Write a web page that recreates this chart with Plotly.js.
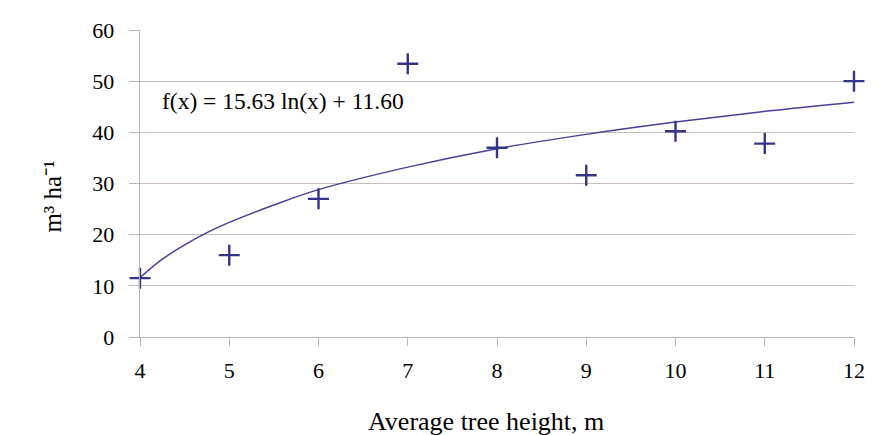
<!DOCTYPE html>
<html>
<head>
<meta charset="utf-8">
<script src="https://cdn.plot.ly/plotly-3.0.1.min.js"></script>
<style>html,body{margin:0;padding:0;background:#fff;}#chart{width:887px;height:435px;}</style>
</head>
<body>
<div id="chart"></div>
<script>
const heights = [4, 5, 6, 7, 8, 9, 10, 11, 12];
const volumes = [11.5, 16.0, 27.0, 53.4, 37.0, 31.6, 40.2, 37.8, 50.0];

// Trend line points
const trendX = [4, 4.25, 4.5, 4.75, 5, 5.5, 6, 7, 8, 9, 10, 11, 12];
const trendY = [11.6, 15.2, 18.0, 20.4, 22.4, 25.8, 28.8, 33.2, 36.8, 39.6, 42.0, 44.1, 45.9];

const xTicks = [4, 5, 6, 7, 8, 9, 10, 11, 12];
const yTicks = [0, 10, 20, 30, 40, 50, 60];

const equationText = 'f(x) = 15.63 ln(x) + 11.60';
const xTitle = 'Average tree height, m';
const yTitle = 'm³ ha⁻¹';

const serif = 'Liberation Serif, Times New Roman, serif';

const traces = [
  {
    x: trendX, y: trendY, type: 'scatter', mode: 'lines',
    line: {color: '#4a3f98', width: 1.5, shape: 'spline'},
    hoverinfo: 'skip', showlegend: false, cliponaxis: false
  },
  {
    x: heights, y: volumes, type: 'scatter', mode: 'markers',
    marker: {symbol: 'cross-thin', size: 15, color: '#33348a', line: {color: '#33348a', width: 2.4}},
    showlegend: false, cliponaxis: false
  }
];

const layout = {
  width: 887, height: 435,
  margin: {l: 140, r: 33, t: 30, b: 98},
  paper_bgcolor: '#ffffff', plot_bgcolor: '#ffffff',
  showlegend: false,
  xaxis: {
    range: [4, 12], tickvals: xTicks, ticktext: xTicks.map(String),
    showgrid: false, zeroline: false,
    showline: true, linecolor: '#bdb3b3', linewidth: 1.3,
    ticks: 'outside', ticklen: 8, tickcolor: '#bdb3b3',
    tickfont: {family: serif, size: 22, color: '#000000'},
    ticklabelstandoff: 5
  },
  yaxis: {
    range: [0, 60], tickvals: yTicks, ticktext: yTicks.map(String),
    showgrid: true, gridcolor: '#c9bdbb', gridwidth: 1.3, zeroline: false,
    showline: true, linecolor: '#bdb3b3', linewidth: 1.3,
    ticks: 'outside', ticklen: 10, tickcolor: '#bdb3b3',
    tickfont: {family: serif, size: 22, color: '#000000'},
    ticklabelstandoff: 10
  },
  annotations: [
    {
      text: equationText, xref: 'paper', yref: 'paper', x: 0.028, y: 0.768,
      xanchor: 'left', yanchor: 'middle', showarrow: false,
      font: {family: serif, size: 23.5, color: '#000000'}
    },
    {
      text: xTitle, xref: 'paper', yref: 'paper', x: 0.485, y: -0.275,
      xanchor: 'center', yanchor: 'middle', showarrow: false,
      font: {family: serif, size: 26, color: '#000000'}
    },
    {
      text: yTitle, xref: 'paper', yref: 'paper', x: -0.123, y: 0.458,
      xanchor: 'center', yanchor: 'middle', showarrow: false, textangle: -90,
      font: {family: serif, size: 25, color: '#000000'}
    }
  ]
};

Plotly.newPlot('chart', traces, layout, {staticPlot: true, displayModeBar: false});
</script>
</body>
</html>
